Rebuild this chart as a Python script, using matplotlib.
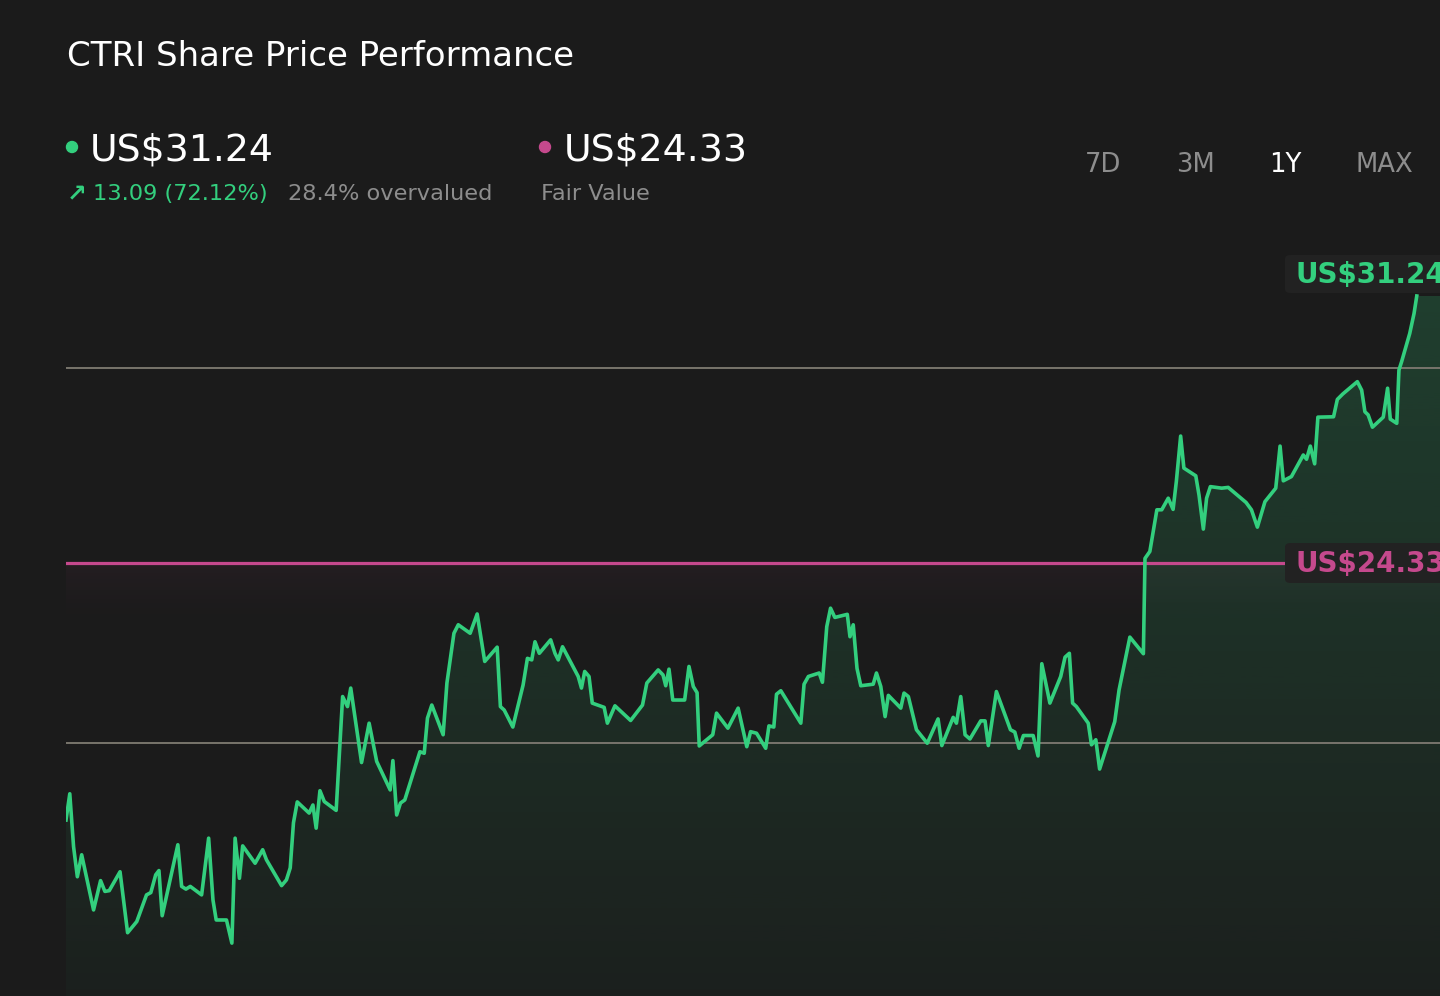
import numpy as np
import matplotlib
matplotlib.use("Agg")
import matplotlib.pyplot as plt
from matplotlib.colors import to_rgb
from matplotlib.patches import Polygon, FancyBboxPatch, Ellipse

# ---------- data ----------
# trading-day index over the year and closing price in US$
days = [
    0.0, 0.7, 1.4, 2.1, 2.9, 5.1, 6.4, 7.2, 8.0, 10.0, 11.4, 13.1, 14.9, 15.7,
    16.6, 17.2, 17.8, 20.7, 21.4, 22.2, 23.0, 25.1, 26.4, 27.2, 27.8, 29.7,
    30.7, 31.3, 32.1, 32.7, 35.0, 36.4, 37.1, 39.9, 40.8, 41.5, 42.1, 42.8,
    45.0, 45.7, 46.3, 47.0, 47.8, 50.0, 50.7, 51.2, 52.1, 52.7, 54.7, 56.1,
    57.5, 60.0, 60.5, 61.2, 61.9, 62.7, 65.5, 66.3, 66.9, 67.7, 69.8, 70.5,
    71.8, 72.6, 74.8, 76.1, 77.5, 79.8, 80.4, 81.1, 82.7, 84.6, 85.4, 86.2,
    86.8, 87.6, 89.7, 90.5, 91.1, 91.9, 94.8, 95.4, 96.0, 96.8, 97.4, 99.6,
    100.2, 101.6, 104.5, 106.7, 107.5, 109.6, 110.5, 111.0, 111.6, 112.3,
    114.5, 115.3, 116.1, 116.8, 117.2, 119.7, 120.4, 122.5, 124.4, 126.0,
    126.7, 127.8, 129.5, 130.1, 131.0,
    131.5, 132.3, 136.0, 136.6, 137.4, 139.4, 140.0, 140.8, 141.5, 142.3,
    144.6, 145.1, 145.7, 146.4, 147.1, 149.4, 150.0, 150.8, 151.6, 152.2,
    154.5, 155.1, 155.9, 157.4, 159.4, 161.4, 162.1, 164.2, 164.8, 165.6,
    166.4, 167.3, 169.3, 170.1, 170.7, 172.2, 174.8, 175.6, 176.4, 177.2,
    179.0, 179.9, 180.6, 182.1, 184.1, 184.9, 185.7, 186.3, 187.0, 189.2,
    189.8, 190.6, 191.3, 194.1, 194.9, 196.9, 199.4, 199.7, 200.6, 201.9,
    202.8, 204.0, 204.9, 205.5, 206.3, 206.9, 209.1, 209.7, 210.5, 211.1,
    211.8, 213.9, 215.1, 218.4, 219.4, 220.5, 221.9, 223.9, 224.7, 225.3,
    226.8, 229.0, 229.6, 230.3, 231.1, 231.7, 234.6, 235.3, 236.3, 239.0,
    239.8, 240.4, 241.0, 241.8, 243.8, 244.6, 245.1, 246.3, 246.7, 247.2,
    248.7, 249.5, 250.0,
]
prices = [
    17.66, 18.34, 16.97, 16.19, 16.76, 15.33, 16.09, 15.81, 15.83, 16.32,
    14.74, 15.03, 15.72, 15.78, 16.24, 16.35, 15.18, 17.02, 15.94, 15.87,
    15.94, 15.72, 17.19, 15.59, 15.07, 15.07, 14.47, 17.19, 16.15, 16.99,
    16.54, 16.89, 16.63, 15.96, 16.11, 16.42, 17.59, 18.13,
    17.84, 18.05, 17.45, 18.42, 18.14, 17.91, 19.66, 20.86, 20.60, 21.08,
    19.15, 20.17, 19.18, 18.44, 19.20, 17.79, 18.10, 18.18, 19.43, 19.39,
    20.30, 20.64, 19.87, 21.21, 22.50, 22.72, 22.50, 23.00, 21.77, 22.14,
    20.60, 20.51, 20.07, 21.16, 21.85, 21.81, 22.28, 21.98, 22.33, 21.98,
    21.81, 22.15, 21.38, 21.08, 21.51, 21.38, 20.69, 20.58, 20.17, 20.62,
    20.24, 20.64, 21.21, 21.55, 21.42, 21.14, 21.57, 20.77, 20.77, 21.64,
    21.12, 20.96, 19.58, 19.87, 20.43, 20.04, 20.56, 19.56, 19.95, 19.91,
    19.52, 20.10, 20.07,
    20.92, 21.01, 20.17, 21.18, 21.38, 21.47, 21.23, 22.67, 23.15, 22.91,
    22.99, 22.41, 22.72, 21.59, 21.14, 21.18, 21.47, 21.12, 20.34, 20.89,
    20.56, 20.95, 20.86, 20.00, 19.65, 20.28, 19.59, 20.32, 20.17, 20.86,
    19.87, 19.76, 20.23, 20.23, 19.59, 20.99, 20.00, 19.94, 19.52, 19.85,
    19.85, 19.32, 21.71, 20.69, 21.38, 21.88, 21.98, 20.69, 20.60, 20.17,
    19.61, 19.74, 18.98, 20.21, 21.03, 22.40, 21.97, 24.44, 24.62, 25.70,
    25.70, 26.00, 25.71, 26.43, 27.61, 26.78, 26.58, 26.08, 25.20, 26.00,
    26.30, 26.26, 26.28, 25.89, 25.70, 25.25, 25.91, 26.26, 27.35, 26.45,
    26.56, 27.12, 27.01, 27.35, 26.89, 28.10, 28.11, 28.56, 28.70, 29.02,
    28.80, 28.24, 28.16, 27.84, 28.10, 28.85, 28.05, 27.94, 29.32, 29.54,
    30.27, 30.79, 31.24,
]

ticker = "CTRI"
last_price = 31.24
fair_value = 24.33
change = 13.09
change_pct = 72.12
overvalued_pct = 28.4
grid_levels = [19.66, 29.37]
periods = ["7D", "3M", "1Y", "MAX"]
active_period = "1Y"

# ---------- style ----------
BG = "#1b1b1b"
GREEN = "#33cf7e"
PINK = "#c5498d"
GRID = "#78756c"
GREY = "#8d8d8d"
BOX = "#222222"

W, H = 1440, 996
fig = plt.figure(figsize=(W / 100, H / 100), dpi=100, facecolor=BG)


def fx(x):
    return x / W


def fy(y):
    return 1 - y / H


# ---------- chart ----------
ax = fig.add_axes([fx(66), 0, 1 - fx(66), 1 - 230 / H])
x_end = 254.3
y_lo, y_hi = 13.1, 32.95

# faint pink glow under the fair value line
pink = np.zeros((128, 1, 4))
pink[..., :3] = to_rgb(PINK)
pink[..., 3] = np.linspace(0.0, 0.06, 128).reshape(-1, 1) ** 1.5 / 0.06 ** 0.5
ax.imshow(pink, extent=[0, x_end, fair_value - 1.8, fair_value],
          origin="lower", aspect="auto", zorder=1)

# green gradient area under the price line
green = np.zeros((256, 1, 4))
green[..., :3] = to_rgb(GREEN)
green[..., 3] = np.linspace(0.03, 0.2, 256).reshape(-1, 1)
im = ax.imshow(green, extent=[0, x_end, y_lo, last_price],
               origin="lower", aspect="auto", zorder=2)
area = Polygon([(days[0], y_lo)] + list(zip(days, prices))
               + [(x_end, prices[-1]), (x_end, y_lo)],
               closed=True, facecolor="none", edgecolor="none",
               transform=ax.transData)
ax.add_patch(area)
im.set_clip_path(area)

for level in grid_levels:
    ax.axhline(level, color=GRID, lw=1.4, zorder=2.5)

ax.plot([0, 225.3], [fair_value, fair_value], color=PINK, lw=2.3, zorder=3)
ax.plot(days, prices, color=GREEN, lw=2.6, zorder=4)

ax.set_xlim(0, x_end)
ax.set_ylim(y_lo, y_hi)
ax.axis("off")

# value tags on the right edge
for y0, y1, txt, col, base in [(255, 293, f"US${last_price:.2f}", GREEN, 283),
                               (543, 583, f"US${fair_value:.2f}", PINK, 572)]:
    fig.patches.append(FancyBboxPatch(
        (fx(1285), fy(y1)), fx(200), (y1 - y0) / H,
        boxstyle="round,pad=0,rounding_size=0.004",
        facecolor=BOX, edgecolor="none", transform=fig.transFigure, zorder=5))
    fig.text(fx(1295), fy(base), txt, color=col, fontsize=20,
             fontweight="bold", va="baseline", ha="left", zorder=6)

# ---------- header ----------
fig.text(fx(67), fy(66), f"{ticker} Share Price Performance", color="white",
         fontsize=24.5, va="baseline", ha="left")

fig.patches.append(Ellipse((fx(72), fy(147)), 11 / W, 11 / H, color=GREEN,
                           transform=fig.transFigure))
fig.text(fx(90), fy(160), f"US${last_price:.2f}", color="white",
         fontsize=27.3, va="baseline", ha="left")
fig.text(fx(67), fy(201), "\u2197", color=GREEN, fontsize=17,
         fontweight="bold", va="baseline", ha="left")
fig.text(fx(93), fy(200), f"{change:.2f} ({change_pct:.2f}%)", color=GREEN,
         fontsize=16.2, va="baseline", ha="left")
fig.text(fx(288), fy(200), f"{overvalued_pct}% overvalued", color=GREY,
         fontsize=16.2, va="baseline", ha="left")

fig.patches.append(Ellipse((fx(545), fy(147)), 11 / W, 11 / H, color=PINK,
                           transform=fig.transFigure))
fig.text(fx(564), fy(160), f"US${fair_value:.2f}", color="white",
         fontsize=27.3, va="baseline", ha="left")
fig.text(fx(541), fy(200), "Fair Value", color=GREY,
         fontsize=16.2, va="baseline", ha="left")

for x, p in zip([1085, 1176, 1269, 1356], periods):
    fig.text(fx(x), fy(172), p, color="white" if p == active_period else GREY,
             fontsize=18.6, va="baseline", ha="left")

fig.savefig("out.png", dpi=100, facecolor=BG)
